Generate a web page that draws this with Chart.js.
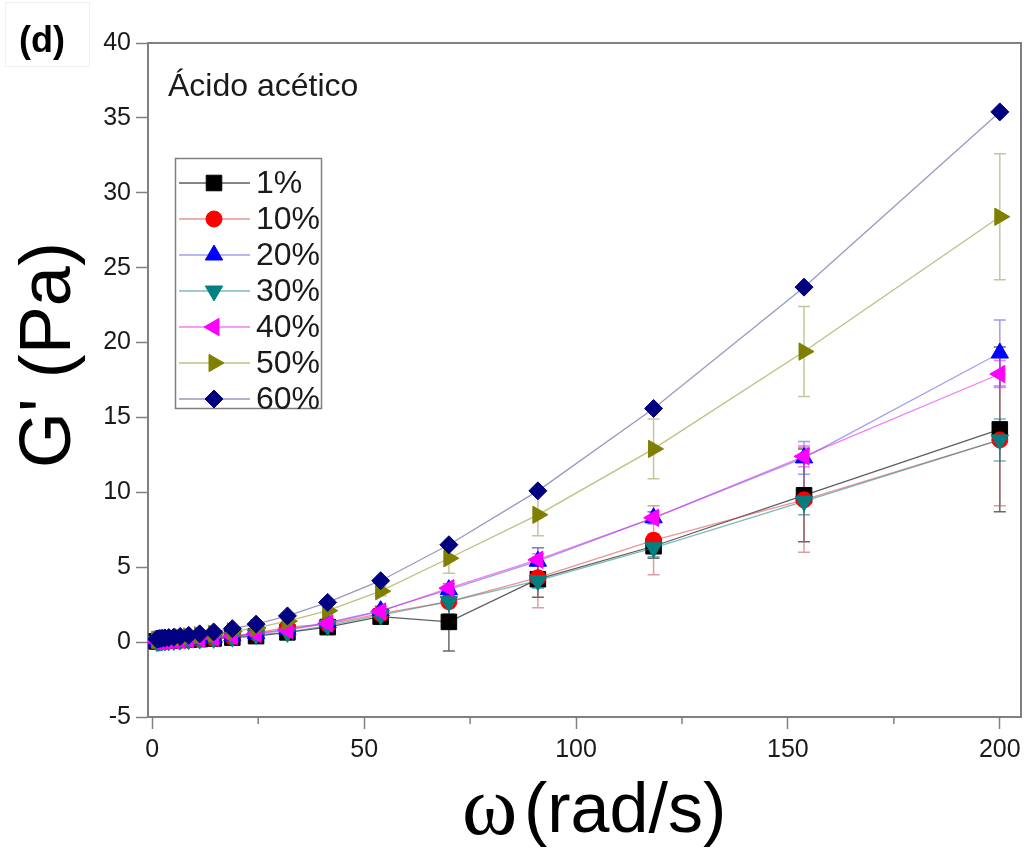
<!DOCTYPE html>
<html>
<head>
<meta charset="utf-8">
<script src="https://cdn.jsdelivr.net/npm/chart.js@4.4.1/dist/chart.umd.min.js"></script>
<style>
  body { margin: 0; background: #fff; }
  canvas { display: block; }
</style>
</head>
<body>
<canvas id="gChart" width="1033" height="850"></canvas>
<script>
// angular frequency (rad/s), log sweep
const omega = [1.05, 1.4, 1.8, 2.3, 3.0, 3.9, 5.1, 6.6, 8.6, 11.2, 14.5, 18.9, 24.5, 31.9, 41.4, 53.9, 70.0, 91.0, 118.3, 153.8, 200];

// storage modulus G' (Pa) per concentration
const g1  = [0.05, 0.06, 0.07, 0.08, 0.09, 0.10, 0.12, 0.14, 0.17, 0.20, 0.24, 0.30, 0.40, 0.65, 1.00, 1.70, 1.35, 4.20, 6.40, 9.80, 14.2];
const g10 = [0.04, 0.05, 0.06, 0.07, 0.08, 0.09, 0.11, 0.13, 0.16, 0.20, 0.25, 0.35, 0.60, 1.00, 1.20, 1.90, 2.70, 4.30, 6.80, 9.50, 13.5];
const g20 = [0.05, 0.06, 0.07, 0.08, 0.09, 0.10, 0.12, 0.15, 0.19, 0.24, 0.32, 0.42, 0.58, 0.85, 1.30, 2.10, 3.50, 5.40, 8.30, 12.3, 19.3];
const g30 = [0.04, 0.05, 0.06, 0.07, 0.08, 0.09, 0.11, 0.13, 0.16, 0.20, 0.25, 0.33, 0.50, 0.65, 1.10, 1.80, 2.70, 4.10, 6.30, 9.40, 13.5];
const g40 = [0.04, 0.05, 0.06, 0.07, 0.08, 0.09, 0.11, 0.14, 0.18, 0.23, 0.30, 0.40, 0.55, 0.80, 1.25, 2.05, 3.60, 5.50, 8.30, 12.4, 17.9];
const g50 = [0.15, 0.17, 0.19, 0.20, 0.22, 0.25, 0.28, 0.32, 0.38, 0.45, 0.55, 0.72, 0.95, 1.40, 2.10, 3.40, 5.60, 8.50, 12.9, 19.4, 28.4];
const g60 = [0.20, 0.22, 0.24, 0.26, 0.28, 0.30, 0.33, 0.38, 0.45, 0.55, 0.68, 0.90, 1.20, 1.75, 2.65, 4.10, 6.50, 10.1, 15.6, 23.7, 35.4];

// standard deviations
const e1  = [0, 0, 0, 0, 0, 0, 0, 0, 0, 0, 0.05, 0.08, 0.10, 0.15, 0.20, 0.30, 1.95, 1.20, 0.80, 3.10, 5.50];
const e10 = [0, 0, 0, 0, 0, 0, 0, 0, 0, 0, 0.05, 0.08, 0.10, 0.20, 0.30, 0.50, 0.80, 2.00, 2.30, 3.50, 4.40];
const e20 = [0, 0, 0, 0, 0, 0, 0, 0, 0, 0, 0.05, 0.05, 0.08, 0.10, 0.20, 0.30, 0.40, 0.90, 0.40, 1.10, 2.20];
const e30 = [0, 0, 0, 0, 0, 0, 0, 0, 0, 0, 0.05, 0.05, 0.08, 0.10, 0.20, 0.30, 0.40, 0.50, 0.60, 0.90, 1.40];
const e40 = [0, 0, 0, 0, 0, 0, 0, 0, 0, 0, 0.05, 0.05, 0.08, 0.10, 0.15, 0.20, 0.30, 0.40, 0.40, 0.70, 0.90];
const e50 = [0, 0, 0, 0, 0, 0, 0, 0, 0, 0, 0.05, 0.05, 0.10, 0.15, 0.20, 0.30, 1.00, 1.40, 2.00, 3.00, 4.20];
const e60 = [0, 0, 0, 0, 0, 0, 0, 0, 0, 0, 0, 0, 0, 0, 0, 0, 0, 0, 0, 0, 0];

const labels = ["1%", "10%", "20%", "30%", "40%", "50%", "60%"];
const xTicks = [0, 50, 100, 150, 200];
const xMinorTicks = [25, 75, 125, 175];
const yTicks = [-5, 0, 5, 10, 15, 20, 25, 30, 35, 40];

const series = [
  { y: g1,  err: e1,  fill: "#000000", line: "rgba(40,40,40,0.75)",   bar: "rgba(40,40,40,0.7)",    style: "rect",    rot: 0,   r: 11 },
  { y: g10, err: e10, fill: "#ff0000", line: "rgba(220,60,60,0.55)",  bar: "rgba(200,90,100,0.6)",  style: "circle",  rot: 0,   r: 8 },
  { y: g20, err: e20, fill: "#0000ff", line: "rgba(80,80,230,0.55)",  bar: "rgba(90,90,230,0.6)",   style: "triangle", rot: 0,  r: 10 },
  { y: g30, err: e30, fill: "#008080", line: "rgba(20,130,130,0.55)", bar: "rgba(20,130,130,0.6)",  style: "triangle", rot: 180, r: 10 },
  { y: g40, err: e40, fill: "#ff00ff", line: "rgba(230,40,230,0.6)",  bar: "rgba(230,40,230,0.6)",  style: "triangle", rot: 270, r: 10 },
  { y: g50, err: e50, fill: "#808000", line: "rgba(128,128,0,0.5)",   bar: "rgba(150,150,80,0.55)", style: "triangle", rot: 90,  r: 10 },
  { y: g60, err: e60, fill: "#000080", line: "rgba(70,70,140,0.55)",  bar: "rgba(70,70,140,0.55)",  style: "rectRot", rot: 0,   r: 9 }
];

const datasets = series.map((s, i) => ({
  label: labels[i],
  data: omega.map((x, k) => ({ x: x, y: s.y[k] })),
  errors: s.err,
  barColor: s.bar,
  borderColor: s.line,
  borderWidth: 1.3,
  backgroundColor: s.fill,
  pointBackgroundColor: s.fill,
  pointBorderColor: s.fill,
  pointBorderWidth: 1,
  pointStyle: s.style,
  pointRotation: s.rot,
  pointRadius: s.r,
  tension: 0,
  order: series.length - i
}));

const axisColor = "#808080";
const textColor = "#1a1a1a";
const sans = "'Liberation Sans', Arial, sans-serif";

// error bars, drawn under the markers
const errorBars = {
  id: "errorBars",
  beforeDatasetsDraw(chart) {
    const ctx = chart.ctx;
    const ys = chart.scales.y;
    chart.data.datasets.forEach((ds, di) => {
      const meta = chart.getDatasetMeta(di);
      ctx.save();
      ctx.strokeStyle = ds.barColor;
      ctx.lineWidth = 1.5;
      meta.data.forEach((pt, k) => {
        const e = ds.errors[k];
        if (!e) return;
        const v = ds.data[k].y;
        const top = ys.getPixelForValue(v + e);
        const bot = ys.getPixelForValue(v - e);
        ctx.beginPath();
        ctx.moveTo(pt.x, top); ctx.lineTo(pt.x, bot);
        ctx.moveTo(pt.x - 6, top); ctx.lineTo(pt.x + 6, top);
        ctx.moveTo(pt.x - 6, bot); ctx.lineTo(pt.x + 6, bot);
        ctx.stroke();
      });
      ctx.restore();
    });
  }
};

// frame, minor ticks, titles, legend and labels
const decorations = {
  id: "decorations",
  afterDraw(chart) {
    const ctx = chart.ctx;
    const a = chart.chartArea;
    const xs = chart.scales.x;
    ctx.save();

    // frame
    ctx.strokeStyle = axisColor;
    ctx.lineWidth = 2;
    ctx.beginPath();
    ctx.moveTo(a.left, a.top); ctx.lineTo(a.right, a.top); ctx.lineTo(a.right, a.bottom);
    ctx.stroke();

    // minor x ticks
    ctx.lineWidth = 1.5;
    ctx.beginPath();
    xMinorTicks.forEach(v => {
      const px = xs.getPixelForValue(v);
      ctx.moveTo(px, a.bottom); ctx.lineTo(px, a.bottom + 7);
    });
    ctx.stroke();

    // y title
    ctx.fillStyle = "#000";
    ctx.save();
    ctx.translate(50, 355);
    ctx.rotate(-Math.PI / 2);
    ctx.font = "72px " + sans;
    ctx.textAlign = "center";
    ctx.textBaseline = "middle";
    ctx.fillText("G' (Pa)", 0, 0);
    ctx.restore();

    // x title: serif omega followed by the unit
    ctx.textBaseline = "alphabetic";
    ctx.textAlign = "left";
    ctx.font = "84px 'Liberation Serif', 'Times New Roman', serif";
    ctx.fillText("ω", 462, 834);
    ctx.font = "70px " + sans;
    ctx.fillText("(rad/s)", 524, 832);

    // panel letter
    ctx.strokeStyle = "rgba(0,0,0,0.06)";
    ctx.lineWidth = 1;
    ctx.strokeRect(5.5, 2.5, 84, 64);
    ctx.font = "bold 36px " + sans;
    ctx.fillStyle = "#000";
    ctx.textBaseline = "middle";
    ctx.fillText("(d)", 19, 42);

    // inner caption
    ctx.font = "32px " + sans;
    ctx.fillStyle = textColor;
    ctx.textBaseline = "alphabetic";
    ctx.fillText("Ácido acético", 168, 96);

    // legend box
    ctx.strokeStyle = axisColor;
    ctx.lineWidth = 1.5;
    ctx.strokeRect(175.5, 158.5, 146, 250);
    chart.data.datasets.forEach((ds, i) => {
      const y = 183 + i * 36;
      ctx.strokeStyle = ds.borderColor;
      ctx.lineWidth = 1.5;
      ctx.beginPath();
      ctx.moveTo(179, y); ctx.lineTo(250, y);
      ctx.stroke();
      ctx.fillStyle = ds.pointBackgroundColor;
      ctx.strokeStyle = ds.pointBorderColor;
      ctx.lineWidth = 1;
      Chart.helpers.drawPoint(ctx, {
        pointStyle: ds.pointStyle,
        rotation: ds.pointRotation,
        radius: ds.pointRadius,
        borderWidth: 1
      }, 214, y);
      ctx.fillStyle = textColor;
      ctx.font = "32px " + sans;
      ctx.textBaseline = "middle";
      ctx.fillText(ds.label, 256, y + 1);
    });

    ctx.restore();
  }
};

new Chart(document.getElementById("gChart").getContext("2d"), {
  type: "line",
  data: { datasets },
  plugins: [errorBars, decorations],
  options: {
    responsive: false,
    animation: false,
    events: [],
    layout: { padding: { top: 43, right: 10, left: 0, bottom: 0 } },
    plugins: { legend: { display: false }, tooltip: { enabled: false } },
    scales: {
      x: {
        type: "linear",
        min: -1,
        max: 205,
        afterFit: s => { s.height = 133; },
        afterBuildTicks: s => { s.ticks = xTicks.map(v => ({ value: v })); },
        grid: { drawOnChartArea: false, drawTicks: true, tickLength: 12, tickColor: axisColor, tickWidth: 1.5 },
        border: { color: axisColor, width: 2 },
        ticks: { color: textColor, padding: 6, font: { family: sans, size: 25 } }
      },
      y: {
        type: "linear",
        min: -5,
        max: 40,
        afterFit: s => { s.width = 148; },
        afterBuildTicks: s => { s.ticks = yTicks.map(v => ({ value: v })); },
        grid: { drawOnChartArea: false, drawTicks: true, tickLength: 12, tickColor: axisColor, tickWidth: 1.5 },
        border: { color: axisColor, width: 2 },
        ticks: { color: textColor, padding: 5, font: { family: sans, size: 25 } }
      }
    }
  }
});
</script>
</body>
</html>
